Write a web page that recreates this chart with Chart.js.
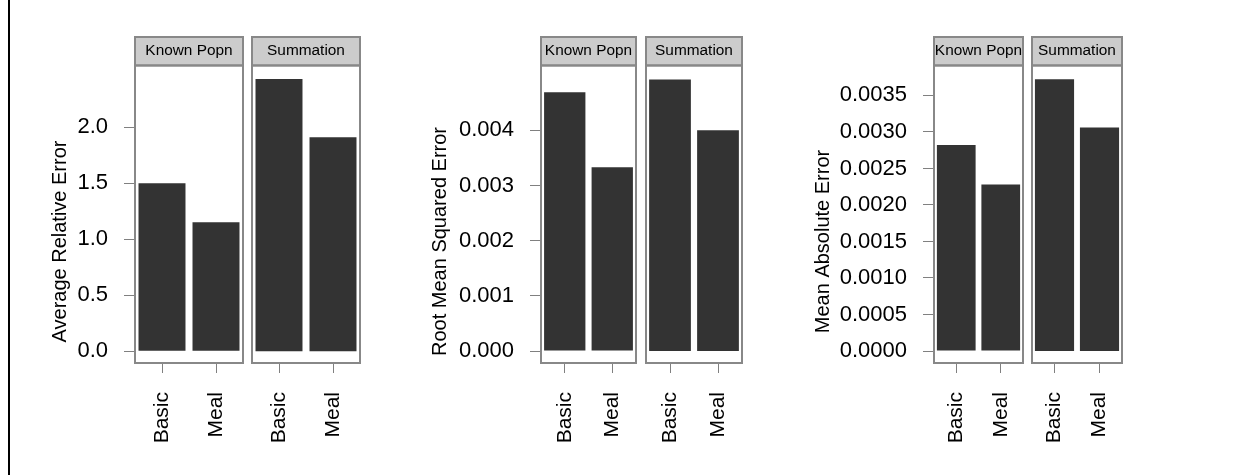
<!DOCTYPE html>
<html>
<head>
<meta charset="utf-8">
<script src="https://cdn.jsdelivr.net/npm/chart.js@4"></script>
<style>
  body { margin: 0; background: #fff; }
  #page { position: relative; width: 1246px; height: 475px; overflow: hidden; background: #fff; }
  #page canvas { position: absolute; top: 0; }
  #edge { position: absolute; left: 8px; top: 0; width: 2px; height: 475px; background: #000; }
</style>
</head>
<body>
<div id="page"><div id="edge"></div></div>
<script>
// data
var categories = ['Basic', 'Meal'];
var strips = ['Known Popn', 'Summation'];

var areKnown = [1.50, 1.15];
var areSum = [2.43, 1.91];
var rmseKnown = [0.00469, 0.00333];
var rmseSum = [0.00492, 0.00400];
var maeKnown = [0.00282, 0.00228];
var maeSum = [0.00372, 0.00306];

var areTicks = [0, 0.5, 1.0, 1.5, 2.0];
var rmseTicks = [0, 0.001, 0.002, 0.003, 0.004];
var maeTicks = [0, 0.0005, 0.0010, 0.0015, 0.0020, 0.0025, 0.0030, 0.0035];

// panel layout (page pixels)
var STRIP_TOP = 37;
var PANEL_BOTTOM = 363;
var YLAB_Y = 241.5;
var H = 475;

var groups = [
  { title: 'Average Relative Error', series: [areKnown, areSum], ticks: areTicks, digits: 1,
    min: -0.105, max: 2.55, lefts: [135, 252], widths: [108, 108], axisW: 87, titleOff: 74.5 },
  { title: 'Root Mean Squared Error', series: [rmseKnown, rmseSum], ticks: rmseTicks, digits: 3,
    min: -0.000217, max: 0.005176, lefts: [541, 646], widths: [95, 96], axisW: 112, titleOff: 100.5 },
  { title: 'Mean Absolute Error', series: [maeKnown, maeSum], ticks: maeTicks, digits: 4,
    min: -0.000164, max: 0.00391, lefts: [934, 1032], widths: [89, 90], axisW: 123, titleOff: 111 }
];

Chart.defaults.font.family = '"Liberation Sans", Arial, Helvetica, sans-serif';
Chart.defaults.color = '#000';

// strip header box, panel border, and the y label (lattice puts it lower than the panel middle)
var stripPlugin = {
  id: 'strip',
  beforeDraw: function(chart) {
    var a = chart.chartArea, ctx = chart.ctx;
    ctx.save();
    ctx.fillStyle = '#cccccc';
    ctx.fillRect(a.left, STRIP_TOP, a.right - a.left, a.top - STRIP_TOP);
    ctx.restore();
  },
  afterDraw: function(chart, args, opts) {
    var a = chart.chartArea, ctx = chart.ctx;
    ctx.save();
    ctx.strokeStyle = '#888888';
    ctx.lineWidth = 2;
    ctx.strokeRect(a.left, STRIP_TOP, a.right - a.left, a.top - STRIP_TOP);
    ctx.strokeRect(a.left, a.top, a.right - a.left, a.bottom - a.top);
    if (opts.ylab) {
      ctx.translate(a.left - opts.off, YLAB_Y);
      ctx.rotate(-Math.PI / 2);
      ctx.fillStyle = '#000';
      ctx.font = '20px "Liberation Sans", Arial, sans-serif';
      ctx.textAlign = 'center';
      ctx.textBaseline = 'middle';
      ctx.fillText(opts.ylab, 0, 0);
    }
    ctx.restore();
  }
};

var page = document.getElementById('page');

groups.forEach(function(g) {
  for (var p = 0; p < 2; p++) {
    var isLeft = p === 0;
    var axisW = isLeft ? g.axisW : 0;
    var canvasLeft = isLeft ? g.lefts[p] - g.axisW : g.lefts[p] - 2;
    var canvasW = isLeft ? g.axisW + g.widths[p] + 2 : g.widths[p] + 4;

    var cv = document.createElement('canvas');
    cv.width = canvasW;
    cv.height = H;
    cv.style.left = canvasLeft + 'px';
    cv.style.width = canvasW + 'px';
    cv.style.height = H + 'px';
    page.appendChild(cv);

    new Chart(cv, {
      type: 'bar',
      data: {
        labels: categories,
        datasets: [{
          data: g.series[p],
          backgroundColor: '#333333',
          borderWidth: 0,
          barPercentage: 0.87,
          categoryPercentage: 1.0
        }]
      },
      options: {
        responsive: false,
        animation: false,
        devicePixelRatio: 1,
        layout: { padding: { top: STRIP_TOP, left: isLeft ? 0 : 2, right: 2, bottom: 0 } },
        plugins: {
          legend: { display: false },
          tooltip: { enabled: false },
          title: {
            display: true,
            text: strips[p],
            fullSize: false,
            font: { size: 15.4, weight: 'normal' },
            color: '#000',
            padding: { top: 5, bottom: 5 }
          },
          strip: { ylab: isLeft ? g.title : null, off: g.titleOff }
        },
        scales: {
          x: {
            grid: { display: true, drawOnChartArea: false, drawTicks: true, tickLength: 10, color: '#808080', offset: false },
            border: { display: false },
            ticks: { minRotation: 90, maxRotation: 90, autoSkip: false, padding: 19, font: { size: 21 }, color: '#000' },
            afterFit: function(s) { s.height = H - PANEL_BOTTOM; s.paddingLeft = 0; s.paddingRight = 0; }
          },
          y: {
            display: isLeft,
            min: g.min,
            max: g.max,
            afterBuildTicks: (function(tk) {
              return function(s) { s.ticks = tk.map(function(v) { return { value: v }; }); };
            })(g.ticks),
            ticks: {
              autoSkip: false,
              padding: 16,
              font: { size: 22 },
              color: '#000',
              callback: (function(d) { return function(v) { return Number(v).toFixed(d); }; })(g.digits)
            },
            grid: { drawOnChartArea: false, drawTicks: true, tickLength: 11, color: '#808080' },
            border: { display: false },
            afterFit: (function(w) {
              return function(s) { s.width = w; s.paddingTop = 0; s.paddingBottom = 0; };
            })(axisW)
          }
        }
      },
      plugins: [stripPlugin]
    });
  }
});
</script>
</body>
</html>
